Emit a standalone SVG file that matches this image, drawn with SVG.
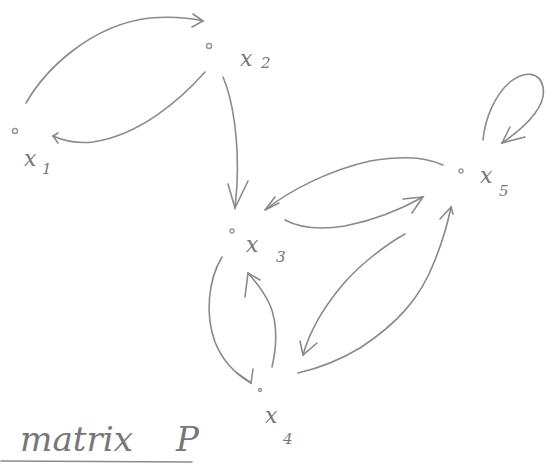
<svg xmlns="http://www.w3.org/2000/svg" width="555" height="468" viewBox="0 0 555 468">
<style>
.e{fill:none;stroke:#8a8a8a;stroke-width:1.6;stroke-linecap:round;stroke-linejoin:round}
.h{fill:none;stroke:#8a8a8a;stroke-width:1.6;stroke-linecap:round}
.d{fill:none;stroke:#999;stroke-width:1.5}
.l{font-family:"DejaVu Serif",serif;font-style:italic;fill:#777}
.lx{font-size:22px}
.ls{font-size:15px}
.m{font-family:"DejaVu Serif",serif;font-style:italic;fill:#777;font-size:34px}
</style>
<rect width="555" height="468" fill="#fff"/>
<g id="connectors">
  <!-- x1 -> x2 -->
  <path class="e" d="M26,103 C45,70 90,25 150,18 C175,16 190,18 203,21"/>
  <path class="h" d="M193,14 L203,21 L192,27"/>
  <!-- x2 -> x1 -->
  <path class="e" d="M205,72 C180,100 140,135 93,142 C75,144 62,140 53,136"/>
  <path class="h" d="M58,133 L53,136 L58,143"/>
  <!-- x2 -> x3 -->
  <path class="e" d="M223,77 C233,100 239,140 237,185 L235,208"/>
  <path class="h" d="M228,184 L235,208 L248,181"/>
  <!-- x5 -> x3 -->
  <path class="e" d="M443,165 C420,155 395,157 370,161 C330,170 290,190 265,210"/>
  <path class="h" d="M275,197 L265,210 L279,203"/>
  <!-- x3 -> x5 -->
  <path class="e" d="M285,220 C300,228 320,230 345,226 C375,220 400,210 423,197"/>
  <path class="h" d="M403,199 L423,197 L412,213"/>
  <!-- x5 -> x4 -->
  <path class="e" d="M405,234 C385,245 360,265 345,282 C325,305 310,330 303,355"/>
  <path class="h" d="M300,341 L303,355 L317,343"/>
  <!-- x4 -> x5 -->
  <path class="e" d="M298,373 C320,368 340,360 360,348 C395,325 420,300 435,260 C443,240 448,222 451,207"/>
  <path class="h" d="M440,219 L451,207 L453,214"/>
  <!-- x3 -> x4 -->
  <path class="e" d="M222,257 C208,280 205,315 215,342 C223,362 237,375 251,383"/>
  <path class="h" d="M237,373 L251,383 L253,369"/>
  <!-- x4 -> x3 -->
  <path class="e" d="M272,367 C277,345 277,322 270,305 C264,292 256,282 248,273"/>
  <path class="h" d="M245,297 L248,273 L260,280"/>
  <!-- x5 self loop -->
  <path class="e" d="M483,140 C485,118 495,95 510,82 C525,70 540,72 543,87 C546,102 535,120 502,143"/>
  <path class="h" d="M510,127 L502,143 L525,137"/>
</g>
<g id="x1">
  <circle class="d" cx="15" cy="131" r="2.5"/>
  <text class="l lx" x="24" y="166">x</text><text class="l ls" x="42" y="174">1</text>
</g>
<g id="x2">
  <circle class="d" cx="209" cy="46" r="2.5"/>
  <text class="l lx" x="240" y="66">x</text><text class="l ls" x="261" y="68">2</text>
</g>
<g id="x3">
  <circle class="d" cx="232" cy="231" r="2"/>
  <text class="l lx" x="246" y="252">x</text><text class="l ls" x="276" y="262">3</text>
</g>
<g id="x4">
  <circle class="d" cx="260" cy="390" r="1.5"/>
  <text class="l lx" x="265" y="423">x</text><text class="l ls" x="283" y="444">4</text>
</g>
<g id="x5">
  <circle class="d" cx="461" cy="171" r="2"/>
  <text class="l lx" x="480" y="183">x</text><text class="l ls" x="499" y="196">5</text>
</g>
<g id="caption">
  <text class="m" x="20" y="451" textLength="113" lengthAdjust="spacingAndGlyphs">matrix</text>
  <text class="m" x="176" y="451" font-size="40">P</text>
  <path class="e" d="M1,461 L192,462"/>
</g>
</svg>
